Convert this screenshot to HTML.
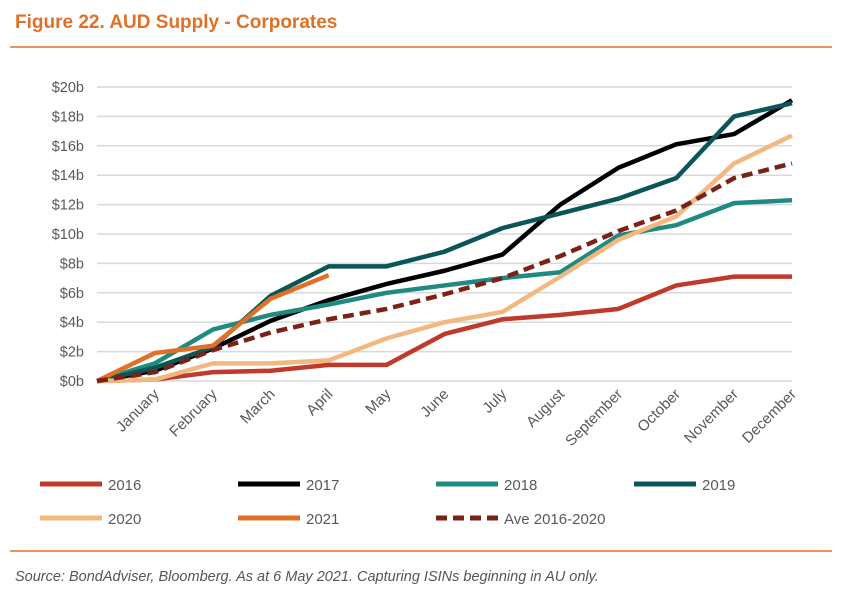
<!DOCTYPE html>
<html><head><meta charset="utf-8"><style>
body{margin:0;width:846px;height:597px;background:#fff;font-family:"Liberation Sans",sans-serif;overflow:hidden}
</style></head><body>
<svg width="846" height="597">
<text x="15" y="28" font-size="19" font-weight="bold" fill="#e07028">Figure 22. AUD Supply - Corporates</text>
<line x1="10" y1="47" x2="832" y2="47" stroke="#e07028" stroke-width="1.5"/>
<g id="grid"></g><g id="ylabels"></g><g id="xlabels"></g><g id="series"></g><g id="legend"></g>
<line x1="10" y1="551" x2="832" y2="551" stroke="#e07028" stroke-width="1.5"/>
<text x="15" y="581" font-size="14.5" font-style="italic" fill="#555">Source: BondAdviser, Bloomberg. As at 6 May 2021. Capturing ISINs beginning in AU only.</text>
</svg>
<script>
const months=["","January","February","March","April","May","June","July","August","September","October","November","December"];
const yTicks=[0,2,4,6,8,10,12,14,16,18,20];
const s2016=[0,0.1,0.6,0.7,1.1,1.1,3.2,4.2,4.5,4.9,6.5,7.1,7.1];
const s2017=[0,0.7,2.2,4.1,5.5,6.6,7.5,8.6,12.0,14.5,16.1,16.8,19.1];
const s2018=[0,1.2,3.5,4.5,5.2,6.0,6.5,7.0,7.4,9.9,10.6,12.1,12.3];
const s2019=[0,0.9,2.3,5.8,7.8,7.8,8.8,10.4,11.4,12.4,13.8,18.0,18.9];
const s2020=[0,0.1,1.2,1.2,1.4,2.9,4.0,4.7,7.1,9.6,11.2,14.8,16.7];
const s2021=[0,1.9,2.4,5.6,7.2];
const sAve=[0,0.6,2.1,3.3,4.2,4.9,5.9,7.0,8.5,10.2,11.6,13.8,14.8];
const seriesNames=["2016","2017","2018","2019","2020","2021","Ave 2016-2020"];
const NS="http://www.w3.org/2000/svg";
const X=i=>97+i*(792-97)/12, Y=v=>381-v*(381-87)/20;
function mk(t,a,p){const e=document.createElementNS(NS,t);for(const k in a)e.setAttribute(k,a[k]);document.getElementById(p).appendChild(e);return e;}
yTicks.forEach(v=>{
 const l=mk('line',{x1:97,x2:792,y1:Y(v),y2:Y(v),stroke:'#d9d9d9','stroke-width':1.5},'grid');
 
 
 const t=mk('text',{x:84,y:Y(v)+5,'text-anchor':'end','font-size':14.5,fill:'#595959'},'ylabels');t.textContent='$'+v+'b';
 
 
});
months.forEach((m,i)=>{if(!m)return;
 const x=X(i)+5,y=395;
 const t=mk('text',{x:x,y:y,'text-anchor':'end','font-size':15,fill:'#595959',transform:`rotate(-45 ${x} ${y})`},'xlabels');t.textContent=m;
 
 
});
const cols=['#c0392b','#000000','#1f8a80','#0a5556','#f2b880','#e07028','#7a2218'];
const data=[s2016,s2017,s2018,s2019,s2020,s2021,sAve];
data.forEach((d,k)=>{
 const p=mk('polyline',{points:d.map((v,i)=>X(i)+','+Y(v)).join(' '),fill:'none',stroke:cols[k],'stroke-width':4.5,'stroke-linejoin':'round','stroke-dasharray':k==6?'11 6':'none'},'series');
 
 
});
const lx=[40,238,436,634,40,238,436],ly=[484,484,484,484,518,518,518];
seriesNames.forEach((n,k)=>{
 const l=mk('line',{x1:lx[k],x2:lx[k]+62,y1:ly[k],y2:ly[k],stroke:cols[k],'stroke-width':5,'stroke-dasharray':k==6?'11 6':'none'},'legend');
 
 
 const t=mk('text',{x:lx[k]+68,y:ly[k]+6,'font-size':15,fill:'#595959'},'legend');t.textContent=n;
 
 
});
</script>
</body></html>
